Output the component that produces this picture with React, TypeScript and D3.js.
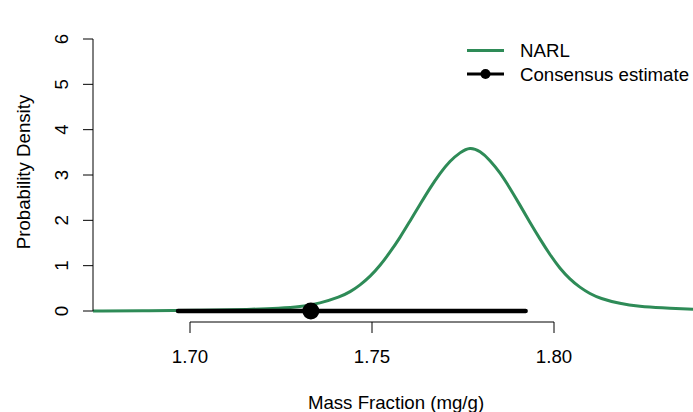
import React from "react";
import * as d3 from "d3";

const massFraction = [
  1.6733, 1.689, 1.7027, 1.7165, 1.7247, 1.7302, 1.7357, 1.7412, 1.744, 1.7467,
  1.7495, 1.7522, 1.7549, 1.7577, 1.7604, 1.7632, 1.7659, 1.7687, 1.7714, 1.7742,
  1.7769, 1.7797, 1.7824, 1.7852, 1.7879, 1.7907, 1.7934, 1.7962, 1.7989, 1.8016,
  1.8044, 1.8071, 1.8099, 1.8126, 1.8181, 1.8236, 1.8291, 1.8382,
];
const narlDensity = [
  0.002, 0.005, 0.012, 0.035, 0.06, 0.09, 0.17, 0.31, 0.42, 0.57,
  0.76, 1.0, 1.29, 1.62, 1.98, 2.35, 2.71, 3.04, 3.31, 3.5,
  3.62, 3.53, 3.33, 3.05, 2.71, 2.33, 1.95, 1.58, 1.24, 0.94,
  0.7, 0.52, 0.38, 0.28, 0.16, 0.1, 0.07, 0.04,
];
const consensusEstimate = 1.7332;
const consensusInterval = [1.6967, 1.7922];
const xTicks = [1.7, 1.75, 1.8];
const yTicks = [0, 1, 2, 3, 4, 5, 6];
const legendLabels = ["NARL", "Consensus estimate"];

const W = 693;
const H = 412;
const plot = { left: 93, right: 695, top: 28, bottom: 322 };
const GREEN = "#2E8B57";
const FONT = "'Liberation Sans', Arial, sans-serif";
const FS = 18.67;

export default function App() {
  const x = d3.scaleLinear().domain([1.7, 1.8]).range([190, 554]);
  const y = d3.scaleLinear().domain([0, 6]).range([311, 39]);
  const pts = massFraction.map((m, i) => [m, narlDensity[i]] as [number, number]);
  const line = d3
    .line<[number, number]>()
    .x((d) => x(d[0]))
    .y((d) => y(d[1]))
    .curve(d3.curveBasis);

  return (
    <svg
      width={W}
      height={H}
      style={{ position: "absolute", left: 0, top: 0, background: "#fff" }}
      fontFamily={FONT}
    >
      <defs>
        <clipPath id="plotclip">
          <rect x={plot.left} y={plot.top} width={plot.right - plot.left} height={plot.bottom - plot.top} />
        </clipPath>
      </defs>
      <rect x={0} y={0} width={W} height={H} fill="#fff" />
      <g clipPath="url(#plotclip)">
        <path d={line(pts) || ""} fill="none" stroke={GREEN} strokeWidth={3} />
        <line
          x1={x(consensusInterval[0])}
          x2={x(consensusInterval[1])}
          y1={y(0)}
          y2={y(0)}
          stroke="#000"
          strokeWidth={4.5}
          strokeLinecap="round"
        />
        <circle cx={x(consensusEstimate)} cy={y(0)} r={8.5} fill="#000" />
      </g>
      {/* y axis */}
      <line x1={plot.left} x2={plot.left} y1={y(0)} y2={y(6)} stroke="#000" strokeWidth={1} />
      {yTicks.map((t) => (
        <g key={t}>
          <line x1={plot.left - 10} x2={plot.left} y1={y(t)} y2={y(t)} stroke="#000" strokeWidth={1} />
          <text
            transform={`translate(68,${y(t)}) rotate(-90)`}
            textAnchor="middle"
            fontSize={FS}
            fill="#000"
          >
            {t}
          </text>
        </g>
      ))}
      {/* x axis */}
      <line x1={x(1.7)} x2={x(1.8)} y1={plot.bottom} y2={plot.bottom} stroke="#000" strokeWidth={1} />
      {xTicks.map((t) => (
        <g key={t}>
          <line x1={x(t)} x2={x(t)} y1={plot.bottom} y2={plot.bottom + 11} stroke="#000" strokeWidth={1} />
          <text x={x(t)} y={363} textAnchor="middle" fontSize={FS} fill="#000">
            {t.toFixed(2)}
          </text>
        </g>
      ))}
      <text x={396} y={409} textAnchor="middle" fontSize={FS} fill="#000">
        Mass Fraction (mg/g)
      </text>
      <text
        transform={`translate(30,172) rotate(-90)`}
        textAnchor="middle"
        fontSize={FS}
        fill="#000"
      >
        Probability Density
      </text>
      {/* legend */}
      <line x1={467} x2={504} y1={50.5} y2={50.5} stroke={GREEN} strokeWidth={3} />
      <text x={520} y={57} fontSize={FS} fill="#000">
        {legendLabels[0]}
      </text>
      <line x1={467} x2={504} y1={74} y2={74} stroke="#000" strokeWidth={3} />
      <circle cx={485.5} cy={74} r={5} fill="#000" />
      <text x={520} y={80.5} fontSize={FS} fill="#000">
        {legendLabels[1]}
      </text>
    </svg>
  );
}
